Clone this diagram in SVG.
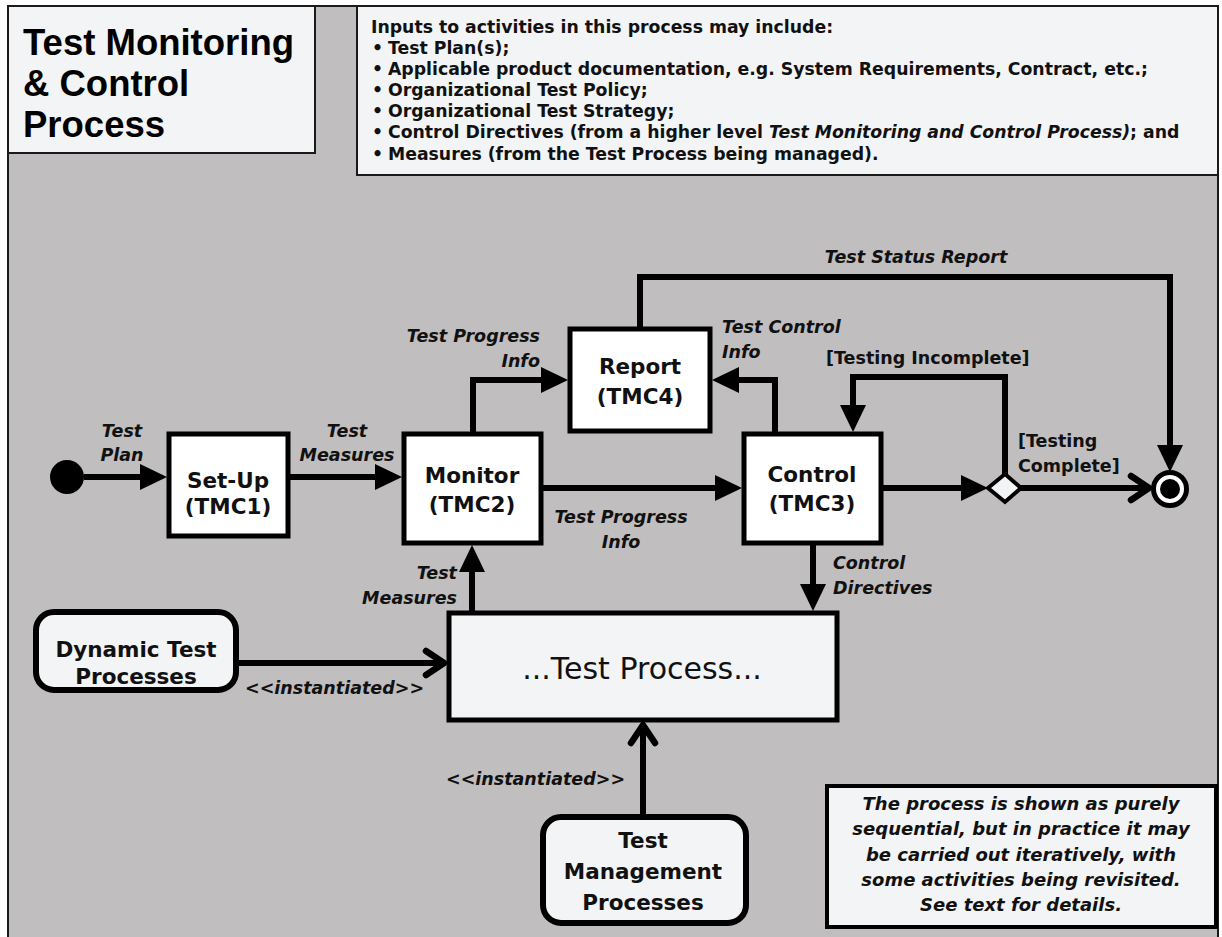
<svg xmlns="http://www.w3.org/2000/svg" width="1222" height="937" viewBox="0 0 1222 937">
<style>
.frame{fill:#c0bebf;stroke:#1a1a1a;stroke-width:2}
.panel{fill:#f3f4f6;stroke:#1a1a1a;stroke-width:2}
.act{fill:#ffffff;stroke:#000;stroke-width:5}
.proc{fill:#f3f4f6;stroke:#000;stroke-width:5}
.rnd{fill:#f3f4f6;stroke:#000;stroke-width:6}
.note{fill:#f3f4f6;stroke:#000;stroke-width:4}
.ln{fill:none;stroke:#000;stroke-width:6}
.nt{font-family:"DejaVu Sans",sans-serif;font-weight:bold;font-size:21.5px;fill:#111;text-anchor:middle}
.lb{font-family:"DejaVu Sans",sans-serif;font-weight:bold;font-style:italic;font-size:17.5px;fill:#111}
.gd{font-family:"DejaVu Sans",sans-serif;font-weight:bold;font-size:17.5px;fill:#111}
.info{font-family:"DejaVu Sans",sans-serif;font-weight:bold;font-size:17.3px;fill:#111}
.title{font-family:"Liberation Sans",Arial,sans-serif;font-weight:bold;font-size:36.5px;fill:#000}
.nb{font-family:"DejaVu Sans",sans-serif;font-weight:bold;font-style:italic;font-size:18px;fill:#111;text-anchor:middle}
.mid{text-anchor:middle}
.end{text-anchor:end}
</style>
<defs>
<marker id="tri" viewBox="0 0 27 26" refX="0" refY="13" markerWidth="27" markerHeight="26" markerUnits="userSpaceOnUse" orient="auto">
<path d="M0,0 L27,13 L0,26 z" fill="#000"/>
</marker>
<marker id="open" viewBox="-24 -16 28 32" refX="0" refY="0" markerWidth="28" markerHeight="32" markerUnits="userSpaceOnUse" orient="auto">
<path d="M-18,-12 L0,0 L-18,12" fill="none" stroke="#000" stroke-width="6.5" stroke-linecap="round" stroke-linejoin="round"/>
</marker>
</defs>
<rect x="0" y="0" width="1222" height="937" fill="#ffffff"/>
<rect class="frame" x="8" y="6" width="1210" height="945"/>

<g id="title">
<rect class="panel" x="8" y="6" width="307" height="147"/>
<text class="title" x="23" y="55">Test Monitoring</text>
<text class="title" x="23" y="96">&amp; Control</text>
<text class="title" x="23" y="137">Process</text>
</g>

<g id="inputs">
<rect class="panel" x="357" y="6" width="861" height="169"/>
<text class="info" x="371" y="33">Inputs to activities in this process may include:</text>
<text class="info" x="372" y="54">•</text><text class="info" x="388" y="54">Test Plan(s);</text>
<text class="info" x="372" y="75">•</text><text class="info" x="388" y="75">Applicable product documentation, e.g. System Requirements, Contract, etc.;</text>
<text class="info" x="372" y="96">•</text><text class="info" x="388" y="96">Organizational Test Policy;</text>
<text class="info" x="372" y="117">•</text><text class="info" x="388" y="117">Organizational Test Strategy;</text>
<text class="info" x="372" y="138">•</text><text class="info" x="388" y="138">Control Directives (from a higher level <tspan font-style="italic">Test Monitoring and Control Process)</tspan>; and</text>
<text class="info" x="372" y="160">•</text><text class="info" x="388" y="160">Measures (from the Test Process being managed).</text>
</g>

<g id="connectors">
<path class="ln" d="M84,477 L140,477" marker-end="url(#tri)"/>
<path class="ln" d="M290,477 L375,477" marker-end="url(#tri)"/>
<path class="ln" d="M473,432 L473,380 L541,380" marker-end="url(#tri)"/>
<path class="ln" d="M543,488 L715,488" marker-end="url(#tri)"/>
<path class="ln" d="M775,432 L775,380 L739,380" marker-end="url(#tri)"/>
<path class="ln" d="M640,327 L640,277 L1170,277 L1170,445" marker-end="url(#tri)"/>
<path class="ln" d="M883,488 L961,488" marker-end="url(#tri)"/>
<path class="ln" d="M1005,474 L1005,377 L853,377 L853,405" marker-end="url(#tri)"/>
<path class="ln" d="M1021,488 L1149,488" marker-end="url(#open)"/>
<path class="ln" d="M813,545 L813,584" marker-end="url(#tri)"/>
<path class="ln" d="M472,611 L472,572" marker-end="url(#tri)"/>
<path class="ln" d="M238,663 L444,663" marker-end="url(#open)"/>
<path class="ln" d="M643,814 L643,725" marker-end="url(#open)"/>
<text class="lb mid" x="122" y="437">Test</text>
<text class="lb mid" x="122" y="461">Plan</text>
<text class="lb mid" x="347" y="437">Test</text>
<text class="lb mid" x="347" y="461">Measures</text>
<text class="lb end" x="540" y="342">Test Progress</text>
<text class="lb end" x="540" y="367">Info</text>
<text class="lb" x="722" y="333">Test Control</text>
<text class="lb" x="722" y="358">Info</text>
<text class="lb mid" x="916" y="263">Test Status Report</text>
<text class="gd" x="826" y="364">[Testing Incomplete]</text>
<text class="gd" x="1018" y="447">[Testing</text>
<text class="gd" x="1018" y="472">Complete]</text>
<text class="lb mid" x="621" y="523">Test Progress</text>
<text class="lb mid" x="621" y="548">Info</text>
<text class="lb end" x="457" y="579">Test</text>
<text class="lb end" x="457" y="604">Measures</text>
<text class="lb" x="833" y="569">Control</text>
<text class="lb" x="833" y="594">Directives</text>
<text class="lb" x="245" y="694" font-size="16.5px">&lt;&lt;instantiated&gt;&gt;</text>
<text class="lb" x="446" y="785" font-size="16.5px">&lt;&lt;instantiated&gt;&gt;</text>
</g>

<g id="start">
<circle cx="67" cy="477" r="17" fill="#000"/>
</g>

<g id="setup">
<rect class="act" x="169" y="434" width="119" height="102"/>
<text class="nt" x="228" y="488">Set-Up</text>
<text class="nt" x="228" y="514">(TMC1)</text>
</g>

<g id="monitor">
<rect class="act" x="404" y="434" width="137" height="109"/>
<text class="nt" x="472" y="483">Monitor</text>
<text class="nt" x="472" y="512">(TMC2)</text>
</g>

<g id="report">
<rect class="act" x="570" y="329" width="140" height="102"/>
<text class="nt" x="640" y="374">Report</text>
<text class="nt" x="640" y="404">(TMC4)</text>
</g>

<g id="control">
<rect class="act" x="744" y="434" width="137" height="109"/>
<text class="nt" x="812" y="482">Control</text>
<text class="nt" x="812" y="511">(TMC3)</text>
</g>

<g id="decision">
<polygon points="988,488 1005,474 1021,488 1005,502" fill="#f3f4f6" stroke="#000" stroke-width="4"/>
</g>

<g id="final">
<circle cx="1170" cy="489" r="16.5" fill="#fff" stroke="#000" stroke-width="5"/>
<circle cx="1170" cy="489" r="10" fill="#000"/>
</g>

<g id="testprocess">
<rect class="proc" x="449" y="613" width="388" height="107"/>
<text x="642" y="679" font-family="DejaVu Sans, sans-serif" font-size="30px" fill="#111" text-anchor="middle">...Test Process...</text>
</g>

<g id="dynamic">
<rect class="rnd" x="36" y="612" width="200" height="78" rx="18"/>
<text class="nt" x="136" y="657" font-size="19px">Dynamic Test</text>
<text class="nt" x="136" y="684" font-size="19px">Processes</text>
</g>

<g id="mgmt">
<rect class="rnd" x="543" y="817" width="203" height="106" rx="18"/>
<text class="nt" x="643" y="848" font-size="20px">Test</text>
<text class="nt" x="643" y="879" font-size="20px">Management</text>
<text class="nt" x="643" y="910" font-size="20px">Processes</text>
</g>

<g id="note">
<rect class="note" x="827" y="786" width="389" height="141"/>
<text class="nb" x="1021" y="810">The process is shown as purely</text>
<text class="nb" x="1021" y="835">sequential, but in practice it may</text>
<text class="nb" x="1021" y="861">be carried out iteratively, with</text>
<text class="nb" x="1021" y="886">some activities being revisited.</text>
<text class="nb" x="1021" y="911">See text for details.</text>
</g>
</svg>
